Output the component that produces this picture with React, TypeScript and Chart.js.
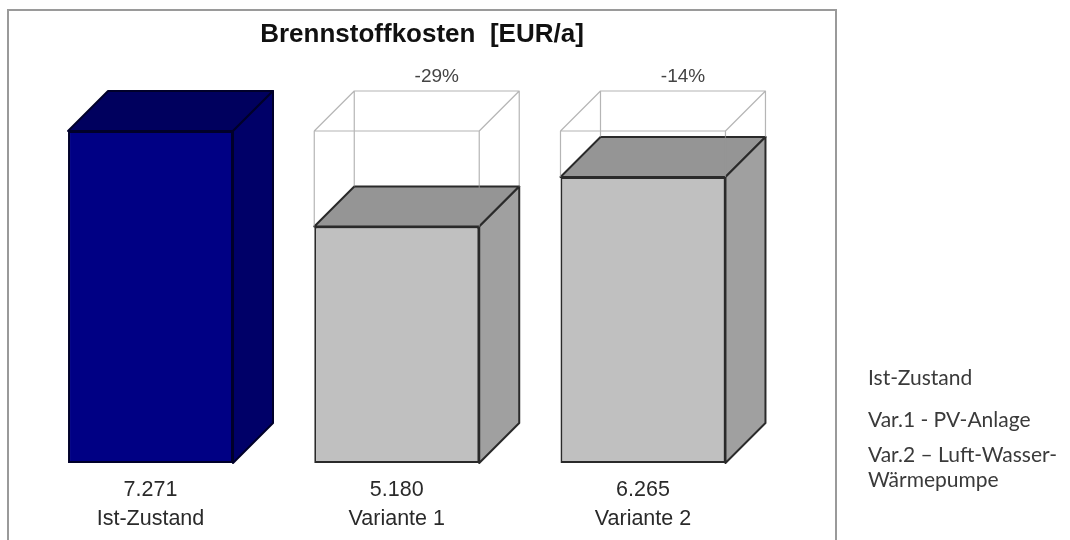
import React, { useEffect, useRef } from "react";
import { Chart, registerables } from "chart.js";

Chart.register(...registerables);

// Annual fuel costs per scenario
const categories = ["Ist-Zustand", "Variante 1", "Variante 2"];
const costs = [7271, 5180, 6265];

// Face colours for each box: front, top, side, outline
const frontColors = ["#000084", "#c0c0c0", "#c0c0c0"];
const topColors = ["#00005e", "#959595", "#959595"];
const sideColors = ["#000068", "#a0a0a0", "#a0a0a0"];
const edgeColors = ["#00002a", "#2a2a2a", "#2a2a2a"];

// Scenario descriptions shown to the right (one entry per text line)
const legendLines = ["Ist-Zustand", "Var.1 - PV-Anlage", "Var.2 – Luft-Wasser-", "Wärmepumpe"];
const legendBaselines = [385, 427, 462, 487];

const titleText = "Brennstoffkosten  [EUR/a]";

const DEPTH_X = 40;
const DEPTH_Y = -40;

function formatDe(v: number): string {
  const s = Math.round(v).toString();
  return s.replace(/\B(?=(\d{3})+(?!\d))/g, ".");
}

const boxPlugin = {
  id: "box3d",
  beforeDraw(chart: any) {
    const ctx = chart.ctx;
    ctx.save();
    ctx.fillStyle = "#ffffff";
    ctx.fillRect(0, 0, chart.width, chart.height);
    // frame around the plot
    ctx.strokeStyle = "#9a9a9a";
    ctx.lineWidth = 2;
    ctx.beginPath();
    ctx.moveTo(8, chart.height + 2);
    ctx.lineTo(8, 10);
    ctx.lineTo(836, 10);
    ctx.lineTo(836, chart.height + 2);
    ctx.stroke();
    // title
    ctx.fillStyle = "#111111";
    ctx.font = "bold 26px 'Liberation Sans', Arial, sans-serif";
    ctx.textAlign = "center";
    ctx.textBaseline = "alphabetic";
    ctx.fillText(titleText, 422, 42);
    ctx.restore();
  },
  afterDatasetsDraw(chart: any) {
    const ctx = chart.ctx;
    const meta = chart.getDatasetMeta(0);
    const yScale = chart.scales.y;
    const refY = yScale.getPixelForValue(costs[0]);
    ctx.save();
    ctx.lineJoin = "round";
    meta.data.forEach((bar: any, i: number) => {
      const { x, y, base, width } = bar.getProps(["x", "y", "base", "width"], true);
      const left = x - width / 2;
      const right = x + width / 2;
      ctx.lineWidth = 2;
      ctx.strokeStyle = edgeColors[i];
      // top face
      ctx.beginPath();
      ctx.moveTo(left, y);
      ctx.lineTo(left + DEPTH_X, y + DEPTH_Y);
      ctx.lineTo(right + DEPTH_X, y + DEPTH_Y);
      ctx.lineTo(right, y);
      ctx.closePath();
      ctx.fillStyle = topColors[i];
      ctx.fill();
      ctx.stroke();
      // side face
      ctx.beginPath();
      ctx.moveTo(right, y);
      ctx.lineTo(right + DEPTH_X, y + DEPTH_Y);
      ctx.lineTo(right + DEPTH_X, base + DEPTH_Y);
      ctx.lineTo(right, base);
      ctx.closePath();
      ctx.fillStyle = sideColors[i];
      ctx.fill();
      ctx.stroke();

      if (i > 0) {
        // wireframe of the reference box
        ctx.strokeStyle = "rgba(150,150,150,0.7)";
        ctx.lineWidth = 1.2;
        ctx.beginPath();
        ctx.moveTo(left, y);
        ctx.lineTo(left, refY);
        ctx.lineTo(right, refY);
        ctx.lineTo(right, y);
        ctx.moveTo(left, refY);
        ctx.lineTo(left + DEPTH_X, refY + DEPTH_Y);
        ctx.lineTo(right + DEPTH_X, refY + DEPTH_Y);
        ctx.lineTo(right, refY);
        ctx.moveTo(left + DEPTH_X, refY + DEPTH_Y);
        ctx.lineTo(left + DEPTH_X, y + DEPTH_Y);
        ctx.moveTo(right + DEPTH_X, refY + DEPTH_Y);
        ctx.lineTo(right + DEPTH_X, y + DEPTH_Y);
        ctx.stroke();

        const pct = Math.round((costs[i] / costs[0] - 1) * 100);
        ctx.fillStyle = "#444444";
        ctx.font = "19px 'Liberation Sans', Arial, sans-serif";
        ctx.textAlign = "center";
        ctx.textBaseline = "alphabetic";
        ctx.fillText(`${pct}%`, x + DEPTH_X, refY + DEPTH_Y - 9);
      }

      // value and category below each box
      ctx.fillStyle = "#2a2a2a";
      ctx.font = "21.5px 'Liberation Sans', Arial, sans-serif";
      ctx.textAlign = "center";
      ctx.textBaseline = "alphabetic";
      ctx.fillText(formatDe(costs[i]), x, base + 33);
      ctx.fillText(categories[i], x, base + 62);
    });

    // scenario descriptions
    ctx.fillStyle = "#3a3a3a";
    ctx.font = "21px Lato, 'Open Sans', sans-serif";
    ctx.textAlign = "left";
    legendLines.forEach((line, k) => {
      ctx.fillText(line, 868, legendBaselines[k]);
    });
    ctx.restore();
  },
};

export default function App() {
  const canvasRef = useRef<HTMLCanvasElement | null>(null);

  useEffect(() => {
    if (!canvasRef.current) return;
    const chart = new Chart(canvasRef.current, {
      type: "bar",
      data: {
        labels: categories,
        datasets: [
          {
            data: costs,
            backgroundColor: frontColors,
            borderColor: edgeColors,
            borderWidth: 2,
            borderSkipped: false,
            barPercentage: 0.67,
            categoryPercentage: 1,
          },
        ],
      },
      options: {
        responsive: true,
        maintainAspectRatio: false,
        animation: false,
        events: [],
        layout: {
          padding: { left: 27.4, right: 303.9, top: 97.7, bottom: 77 },
        },
        scales: {
          x: { display: false },
          y: { display: false, min: 0, max: 8000 },
        },
        plugins: {
          legend: { display: false },
          title: { display: false },
          tooltip: { enabled: false },
        },
      },
      plugins: [boxPlugin],
    });
    return () => chart.destroy();
  }, []);

  return (
    <div style={{ position: "absolute", left: 0, top: 0, width: 1070, height: 540 }}>
      <canvas ref={canvasRef} />
    </div>
  );
}
